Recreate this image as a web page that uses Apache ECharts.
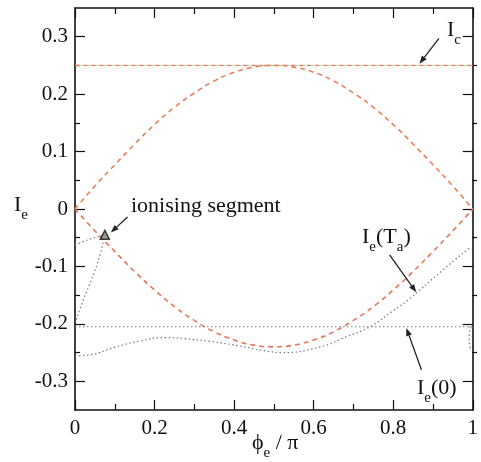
<!DOCTYPE html>
<html>
<head>
<meta charset="utf-8">
<script src="https://cdn.jsdelivr.net/npm/echarts@6/dist/echarts.min.js"></script>
<style>
  html, body { margin: 0; padding: 0; background: #fff; }
  #chart { width: 481px; height: 462px; }
</style>
</head>
<body>
<div id="chart"></div>
<script>
// Axis ticks
const phiTicks = [0, 0.2, 0.4, 0.6, 0.8, 1];
const currentTicks = [-0.3, -0.2, -0.1, 0, 0.1, 0.2, 0.3];
const currentMinorTicks = [-0.25, -0.15, -0.05, 0.05, 0.15, 0.25];

// Sampling of phi_e / pi for the two branches of the critical-current envelope
const phiGrid = [0, 0.05, 0.1, 0.15, 0.2, 0.25, 0.3, 0.35, 0.4, 0.45, 0.5,
                 0.55, 0.6, 0.65, 0.7, 0.75, 0.8, 0.85, 0.9, 0.95, 1];
const upperBranch = [0, 0.040, 0.077, 0.113, 0.147, 0.177, 0.202, 0.223, 0.238, 0.247, 0.250,
                     0.247, 0.238, 0.223, 0.202, 0.177, 0.147, 0.113, 0.077, 0.040, 0];
const lowerBranch = [0, -0.038, -0.074, -0.109, -0.141, -0.170, -0.194, -0.214, -0.228, -0.237, -0.240,
                     -0.237, -0.228, -0.214, -0.194, -0.170, -0.141, -0.109, -0.074, -0.038, 0];

// Critical current I_c
const criticalCurrent = [[0, 0.25], [1, 0.25]];

// I_e(0)
const ieZero = [[0, -0.205], [1, -0.205]];
const ieZeroEnd = [[0.994, -0.205], [0.991, -0.225], [0.995, -0.246]];

// I_e(T_a)
const ieTa = [[0, -0.256], [0.037, -0.254], [0.104, -0.240], [0.162, -0.230], [0.228, -0.224],
              [0.278, -0.226], [0.344, -0.231], [0.41, -0.238], [0.47, -0.246], [0.52, -0.250],
              [0.617, -0.240], [0.684, -0.222], [0.742, -0.205], [0.80, -0.177], [0.838, -0.158],
              [0.925, -0.106], [0.995, -0.066]];

// Ionising segment
const ionPoint = [[0.075, -0.045]];
const ionUpper = [[0, -0.063], [0.035, -0.053], [0.075, -0.045]];
const ionLower = [[0.075, -0.045], [0.062, -0.082], [0.042, -0.122], [0.021, -0.158], [0.003, -0.193]];

const SERIF = 'Liberation Serif';
const INK = '#111';
const ORANGE = '#e9825a';
const GREY = '#7a7a7a';

const chart = echarts.init(document.getElementById('chart'), null, { renderer: 'canvas' });

const gridRect = { left: 75, right: 4, top: 8, bottom: 52 };
const frameLine = { show: true, onZero: false, lineStyle: { color: INK, width: 1.6 } };
const noLine = { show: false, onZero: false };

function zip(xs, ys) { return xs.map((x, i) => [x, ys[i]]); }

const option = {
  animation: false,
  backgroundColor: '#fff',
  grid: [Object.assign({}, gridRect), Object.assign({}, gridRect)],
  xAxis: [
    { gridIndex: 0, type: 'value', position: 'bottom', min: 0, max: 1, interval: 0.2,
      axisLine: frameLine, splitLine: { show: false },
      axisTick: { inside: true, length: 10, lineStyle: { color: INK, width: 1.2 } },
      minorTick: { show: true, splitNumber: 2, length: 6, lineStyle: { color: INK, width: 1.2 } },
      axisLabel: { margin: 8, fontFamily: SERIF, fontSize: 21, color: INK,
                   formatter: v => String(+v.toFixed(1)) } },
    { gridIndex: 0, type: 'value', position: 'top', min: 0, max: 1, interval: 0.2,
      axisLine: frameLine, splitLine: { show: false },
      axisTick: { inside: true, length: 10, lineStyle: { color: INK, width: 1.2 } },
      minorTick: { show: true, splitNumber: 2, length: 6, lineStyle: { color: INK, width: 1.2 } },
      axisLabel: { show: false } },
    { gridIndex: 1, type: 'value', min: 0, max: 1, show: false, axisLine: noLine }
  ],
  yAxis: [
    { gridIndex: 0, type: 'value', position: 'left', min: -0.35, max: 0.35,
      axisLine: frameLine, splitLine: { show: false },
      axisTick: { inside: true, length: 10, customValues: currentTicks, lineStyle: { color: INK, width: 1.2 } },
      axisLabel: { margin: 7, customValues: currentTicks, fontFamily: SERIF, fontSize: 21, color: INK,
                   formatter: v => String(+v.toFixed(1)) } },
    { gridIndex: 0, type: 'value', position: 'right', min: -0.35, max: 0.35,
      axisLine: frameLine, splitLine: { show: false },
      axisTick: { inside: true, length: 10, customValues: currentTicks, lineStyle: { color: INK, width: 1.2 } },
      axisLabel: { show: false } },
    { gridIndex: 1, type: 'value', position: 'left', min: -0.35, max: 0.35,
      axisLine: noLine, splitLine: { show: false },
      axisTick: { inside: true, length: 5, customValues: currentMinorTicks, lineStyle: { color: INK, width: 1.2 } },
      axisLabel: { show: false } },
    { gridIndex: 1, type: 'value', position: 'right', min: -0.35, max: 0.35,
      axisLine: noLine, splitLine: { show: false },
      axisTick: { inside: true, length: 5, customValues: currentMinorTicks, lineStyle: { color: INK, width: 1.2 } },
      axisLabel: { show: false } }
  ],
  series: [
    { name: 'I_c', type: 'line', xAxisIndex: 0, yAxisIndex: 0, data: criticalCurrent, showSymbol: false,
      lineStyle: { color: ORANGE, width: 1.3, type: [4, 4] } },
    { name: 'I_c (alt)', type: 'line', xAxisIndex: 0, yAxisIndex: 0, data: criticalCurrent, showSymbol: false,
      lineStyle: { color: '#9fcfb8', width: 1.0, type: [3, 5], dashOffset: 4 } },
    { name: 'upper', type: 'line', xAxisIndex: 0, yAxisIndex: 0, data: zip(phiGrid, upperBranch),
      smooth: true, showSymbol: false, lineStyle: { color: ORANGE, width: 1.6, type: [5, 4] } },
    { name: 'lower', type: 'line', xAxisIndex: 0, yAxisIndex: 0, data: zip(phiGrid, lowerBranch),
      smooth: true, showSymbol: false, lineStyle: { color: '#e8735a', width: 1.6, type: [5, 4] } },
    { name: 'I_e(0)', type: 'line', xAxisIndex: 0, yAxisIndex: 0, data: ieZero, showSymbol: false,
      lineStyle: { color: GREY, width: 1.2, type: [1.5, 2.5] } },
    { name: 'I_e(0) end', type: 'line', xAxisIndex: 0, yAxisIndex: 0, data: ieZeroEnd, smooth: true,
      showSymbol: false, lineStyle: { color: GREY, width: 1.2, type: [1.5, 2.5] } },
    { name: 'I_e(T_a)', type: 'line', xAxisIndex: 0, yAxisIndex: 0, data: ieTa, smooth: 0.5,
      showSymbol: false, lineStyle: { color: GREY, width: 1.2, type: [1.5, 2.5] } },
    { name: 'ion upper', type: 'line', xAxisIndex: 0, yAxisIndex: 0, data: ionUpper, smooth: true,
      showSymbol: false, lineStyle: { color: GREY, width: 1.2, type: [1.5, 2.5] } },
    { name: 'ion lower', type: 'line', xAxisIndex: 0, yAxisIndex: 0, data: ionLower, smooth: true,
      showSymbol: false, lineStyle: { color: GREY, width: 1.2, type: [1.5, 2.5] } },
    { name: 'ionising point', type: 'scatter', xAxisIndex: 0, yAxisIndex: 0, data: ionPoint,
      symbol: 'triangle', symbolSize: 9, z: 5,
      itemStyle: { color: '#888', borderColor: '#111', borderWidth: 1.5 } }
  ]
};
chart.setOption(option);

// ---- annotations: labels with subscripts and arrows ----
const measureCtx = document.createElement('canvas').getContext('2d');
function mathLabel(x, y, parts, size) {
  const els = [];
  let cx = x;
  parts.forEach(([t, sub]) => {
    const fs = sub ? Math.round(size * 0.68) : size;
    measureCtx.font = fs + 'px "' + SERIF + '"';
    els.push({ type: 'text', x: cx, y: y + (sub ? size * 0.45 : 0), z: 20,
      style: { text: t, fontFamily: SERIF, fontSize: fs, fill: INK, verticalAlign: 'middle', align: 'left' } });
    cx += measureCtx.measureText(t).width;
  });
  return els;
}

function arrow(tail, tip) {
  const p0 = chart.convertToPixel({ gridIndex: 0 }, tail);
  const p1 = chart.convertToPixel({ gridIndex: 0 }, tip);
  const dx = p1[0] - p0[0], dy = p1[1] - p0[1];
  const len = Math.hypot(dx, dy), ux = dx / len, uy = dy / len;
  const hl = 8, hw = 3;
  const bx = p1[0] - ux * hl, by = p1[1] - uy * hl;
  return [
    { type: 'line', z: 20, shape: { x1: p0[0], y1: p0[1], x2: bx, y2: by },
      style: { stroke: '#222', lineWidth: 1.3 } },
    { type: 'polygon', z: 20, shape: { points: [[p1[0], p1[1]], [bx - uy * hw, by + ux * hw], [bx + uy * hw, by - ux * hw]] },
      style: { fill: '#222' } }
  ];
}

const graphics = [].concat(
  mathLabel(447, 30, [['I', false], ['c', true]], 22),
  mathLabel(131, 206, [['ionising segment', false]], 22),
  mathLabel(362, 237, [['I', false], ['e', true], ['(T', false], ['a', true], [')', false]], 22),
  mathLabel(417, 388, [['I', false], ['e', true], ['(0)', false]], 22),
  mathLabel(14, 205, [['I', false], ['e', true]], 22),
  mathLabel(252, 443, [['\u03d5', false], ['e', true], [' / \u03c0', false]], 22),
  arrow([0.915, 0.297], [0.866, 0.253]),
  arrow([0.132, -0.014], [0.090, -0.041]),
  arrow([0.791, -0.080], [0.858, -0.145]),
  arrow([0.871, -0.280], [0.833, -0.207])
);
chart.setOption({ graphic: graphics });
</script>
</body>
</html>
